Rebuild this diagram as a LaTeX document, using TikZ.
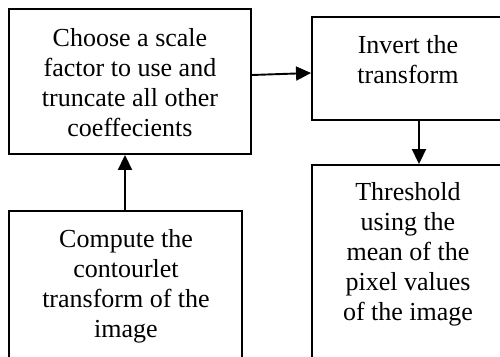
\documentclass[tikz,border=0pt]{standalone}
\usepackage{fontspec}
\setmainfont{Liberation Serif}
\usetikzlibrary{arrows.meta}
\tikzset{
  box/.style={draw=black, line width=1.9pt, rectangle, inner sep=0pt, fill=white},
  txt/.style={align=center, font=\fontsize{26}{30}\selectfont, inner sep=0pt},
  arr/.style={line width=1.9pt, -{Triangle[length=15pt,width=14pt]}}
}
\begin{document}
\begin{tikzpicture}[x=1pt,y=-1pt]
\useasboundingbox (0,0) rectangle (500,356);
\fill[white] (0,0) rectangle (500,356);
\clip (0,0) rectangle (500,356);
\node[box, minimum width=242pt, minimum height=145pt] (A) at (130,81.5) {};
\node[box, minimum width=193pt, minimum height=103pt] (B) at (408.5,68.5) {};
\node[box, minimum width=193pt, minimum height=200pt] (C) at (408.5,265) {};
\node[box, minimum width=233pt, minimum height=154pt] (D) at (125.5,288) {};
\node[txt, anchor=base] (tA) at (130,136) {Choose a scale\\factor to use and\\truncate all other\\coeffecients};
\node[txt, anchor=base] (tB) at (408,83) {Invert the\\transform};
\node[txt, anchor=base] (tC) at (408,320) {Threshold\\using the\\mean of the\\pixel values\\of the image};
\node[txt, anchor=base] (tD) at (126,337) {Compute the\\contourlet\\transform of the\\image};
\draw[arr] ([yshift=6.5pt]A.east) -- ([yshift=-4.5pt]B.west);
\draw[arr] ([xshift=10.5pt]B.south) -- ([xshift=10.5pt]C.north);
\draw[arr] ([xshift=-0.5pt]D.north) -- ([xshift=-5pt]A.south);
\end{tikzpicture}
\end{document}
